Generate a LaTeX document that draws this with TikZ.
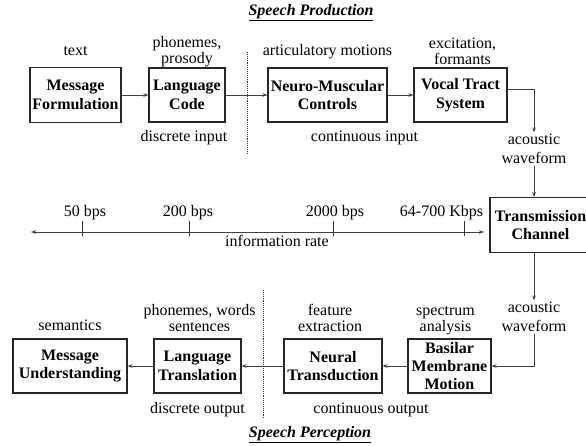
\documentclass[tikz,border=0pt]{standalone}
\usepackage{fontspec}
\setmainfont{Liberation Serif}
\usepackage{tikz}
\usetikzlibrary{arrows.meta, positioning}
\tikzset{
  blockbox/.style={rectangle, draw=black!85, line width=1.1pt, inner sep=0pt, font=\bfseries\fontsize{16}{18.5}\selectfont, align=center},
  toplabel/.style={inner sep=0pt, font=\fontsize{16}{15.5}\selectfont, align=center},
  wavelabel/.style={inner sep=1.5pt, font=\fontsize{16}{19}\selectfont, align=center},
  ratelabel/.style={inner sep=0pt, font=\fontsize{16}{19}\selectfont},
  titlelabel/.style={inner sep=0pt, font=\bfseries\itshape\fontsize{16}{19}\selectfont},
  arrow/.style={-{Stealth[length=5pt, width=3.6pt]}, line width=0.9pt, black!75},
  divider/.style={densely dotted, line width=0.9pt, black!80},
  ratetick/.style={line width=0.9pt, black!80}
}

\begin{document}
\begin{tikzpicture}[x=1pt, y=-1pt]
  \useasboundingbox (0,0) rectangle (586,445);

  % speech production
  \node[titlelabel] (prodtitle) at (311,13) {\underline{Speech Production}};

  \node[blockbox, minimum width=91pt, minimum height=55pt] (mf) at (75.5,95) {Message\\Formulation};
  \node[blockbox, minimum width=76pt, minimum height=54pt] (lc) at (187,95) {Language\\Code};
  \node[blockbox, minimum width=119pt, minimum height=54pt] (nm) at (327.5,95) {Neuro-Muscular\\Controls};
  \node[blockbox, minimum width=93pt, minimum height=54pt] (vt) at (460.5,95) {Vocal Tract\\System};

  \node[toplabel, above=16pt of mf, anchor=center] (mflbl) {text};
  \node[toplabel, above=16pt of lc, anchor=center] (lclbl) {phonemes,\\prosody};
  \node[toplabel, above=16pt of nm, anchor=center] (nmlbl) {articulatory motions};
  \node[toplabel, above=16pt of vt, anchor=center, xshift=2pt] (vtlbl) {excitation,\\formants};
  \node[toplabel, below=15pt of lc, anchor=center, xshift=-3pt] (dinlbl) {discrete input};
  \node[toplabel, below=15pt of nm, anchor=center, xshift=37pt] (cinlbl) {continuous input};

  \draw[arrow] (mf) -- (lc);
  \draw[arrow] (lc) -- (nm);
  \draw[arrow] (nm) -- (vt);

  \coordinate (divtop) at (247,52);
  \coordinate (divbot) at (247,153);
  \draw[divider] (divtop) -- (divbot);

  % channel and information rate
  \node[wavelabel] (aw1) at (534,149) {acoustic\\waveform};
  \node[blockbox, minimum width=101pt, minimum height=55pt] (tc) at (540.5,225) {Transmission\\Channel};
  \node[wavelabel] (aw2) at (534,317) {acoustic\\waveform};

  \draw[arrow] ([yshift=6pt]vt.east) -| (aw1.north);
  \draw[arrow] (aw1.south) -- (aw1.south |- tc.north);
  \draw[arrow] (tc.south -| aw2.north) -- (aw2.north);

  \coordinate (rate0) at (31,232);
  \coordinate (rate1) at (484,232);
  \draw[arrow, {Stealth[length=5pt, width=3.6pt]}-{Stealth[length=5pt, width=3.6pt]}] (rate0) -- (rate1);
  \foreach \tx/\lx/\rate in {82/85/50 bps, 189/188/200 bps, 333/335/2000 bps, 464/441.5/64-700 Kbps}{
    \draw[ratetick] (\tx,221) -- (\tx,236);
    \node[ratelabel] at (\lx,213) {\rate};
  }
  \node[ratelabel] (ratelbl) at (277,241) {information rate};

  % speech perception
  \node[blockbox, minimum width=83pt, minimum height=54pt, font=\bfseries\fontsize{16}{18}\selectfont] (bm) at (449.5,366) {Basilar\\Membrane\\Motion};
  \node[blockbox, minimum width=98pt, minimum height=54pt] (nt) at (333,366) {Neural\\Transduction};
  \node[blockbox, minimum width=87pt, minimum height=54pt] (lt) at (197.5,366) {Language\\Translation};
  \node[blockbox, minimum width=114pt, minimum height=54pt] (mu) at (70,366) {Message\\Understanding};

  \node[toplabel, above=8pt of mu] (mulbl) {semantics};
  \node[toplabel, above=7pt of lt, xshift=2pt] (ltlbl) {phonemes, words\\sentences};
  \node[toplabel, above=7pt of nt, xshift=-3pt] (ntlbl) {feature\\extraction};
  \node[toplabel, above=3.5pt of bm, xshift=-4pt] (bmlbl) {spectrum\\analysis};
  \node[toplabel, below=16pt of lt, anchor=center] (doutlbl) {discrete output};
  \node[toplabel, below=16pt of nt, anchor=center, xshift=38pt] (coutlbl) {continuous output};

  \draw[arrow] (aw2.south) |- (bm.east);
  \draw[arrow] (bm) -- (nt);
  \draw[arrow] (nt) -- (lt);
  \draw[arrow] (lt) -- (mu);

  \coordinate (divtop2) at (263,290);
  \coordinate (divbot2) at (263,418);
  \draw[divider] (divtop2) -- (divbot2);

  \node[titlelabel] (perctitle) at (310,435) {\underline{Speech Perception}};
\end{tikzpicture}
\end{document}
